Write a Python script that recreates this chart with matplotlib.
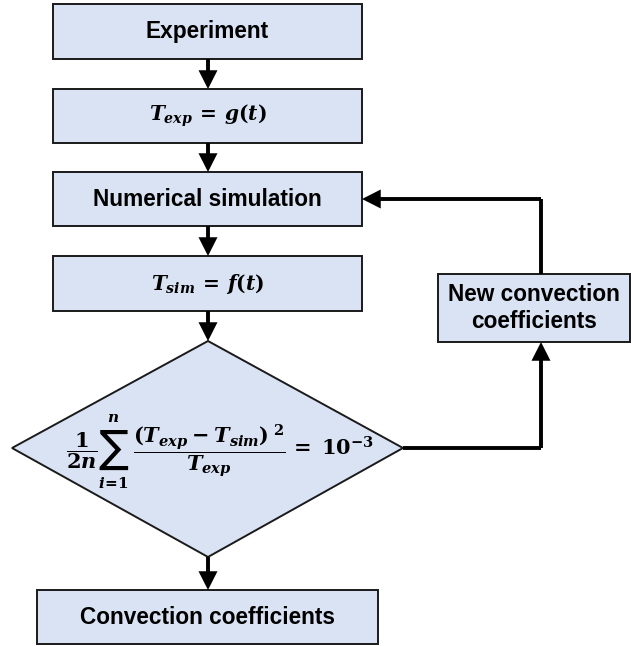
import matplotlib
matplotlib.use("Agg")
import matplotlib.pyplot as plt
from matplotlib.patches import Rectangle, Polygon, FancyArrowPatch

# ── Flowchart content ─────────────────────────────────────────────────────────
step_labels = [
    "Experiment",
    r"$T_{exp}\,=\,g(t)$",
    "Numerical simulation",
    r"$T_{sim}\,=\,f(t)$",
]
# decision criterion, split in pieces so the sum sign can be drawn large
crit_prefactor = r"$\dfrac{\mathbf{1}}{\mathbf{2}n}$"
crit_sum = "\u2211"
crit_upper = r"$n$"
crit_lower = r"$i\!=\!\mathbf{1}$"
crit_term = r"$\dfrac{(T_{exp}-T_{sim})^{\;\mathbf{2}}}{T_{exp}}$"
crit_rhs = r"$=\;\mathbf{10}^{-\mathbf{3}}$"
result_label = "Convection coefficients"
loop_label = "New convection\ncoefficients"

# layout in pixels (y downwards)
STEP_X0, STEP_X1 = 53, 362
STEP_Y = [(4, 59), (89, 143), (172, 226), (256, 311)]
DIAMOND = dict(left=12, right=403, top=341, bottom=557, cx=208, cy=448)
RESULT_BOX = (37, 378, 590, 644)
LOOP_BOX = (438, 630, 274, 342)
LOOP_X = 541

FILL = "#dae3f3"
EDGE = "#1a1a1a"

plt.rcParams["mathtext.fontset"] = "custom"
plt.rcParams["mathtext.it"] = "DejaVu Serif:style=italic:weight=bold"
plt.rcParams["mathtext.rm"] = "DejaVu Serif:weight=bold"
plt.rcParams["mathtext.bf"] = "DejaVu Serif:weight=bold"

fig = plt.figure(figsize=(6.31, 6.46), dpi=100)
ax = fig.add_axes([0, 0, 1, 1])
ax.set_xlim(0, 631)
ax.set_ylim(646, 0)
ax.axis("off")

TXT = dict(ha="center", va="center", family="Liberation Sans",
           fontweight="bold", fontsize=16.3, color="black")


def box(x0, x1, y0, y1, label, math=False):
    ax.add_patch(Rectangle((x0, y0), x1 - x0, y1 - y0, facecolor=FILL,
                           edgecolor=EDGE, linewidth=1.4))
    kw = dict(TXT)
    if math:
        kw["fontsize"] = 14.5
    ax.text((x0 + x1) / 2, (y0 + y1) / 2, label, **kw)


def arrow(points):
    # polyline with an arrow head at the last point
    xs = [p[0] for p in points]
    ys = [p[1] for p in points]
    if len(points) > 2:
        ax.plot(xs[:-1], ys[:-1], color="black", linewidth=2.8,
                solid_joinstyle="miter", solid_capstyle="butt")
    ax.add_patch(FancyArrowPatch(points[-2], points[-1],
                                 arrowstyle="-|>,head_length=0.75,head_width=0.38",
                                 mutation_scale=12, color="black",
                                 linewidth=2.8, shrinkA=0, shrinkB=0,
                                 joinstyle="miter", capstyle="butt"))


for i, (label, (y0, y1)) in enumerate(zip(step_labels, STEP_Y)):
    box(STEP_X0, STEP_X1, y0, y1, label, math=label.startswith("$"))

cx = DIAMOND["cx"]
for (a0, a1), (b0, b1) in zip(STEP_Y[:-1], STEP_Y[1:]):
    arrow([(cx, a1), (cx, b0)])

# decision diamond
d = DIAMOND
ax.add_patch(Polygon([(d["left"], d["cy"]), (d["cx"], d["top"]),
                      (d["right"], d["cy"]), (d["cx"], d["bottom"])],
                     closed=True, facecolor=FILL, edgecolor=EDGE, linewidth=1.4))
ax.text(82, 451, crit_prefactor, ha="center", va="center", fontsize=15)
ax.text(113, 449, crit_sum, ha="center", va="center", fontsize=32,
        family=["DejaVu Sans"])
ax.text(113, 418, crit_upper, ha="center", va="center", fontsize=11)
ax.text(113, 483, crit_lower, ha="center", va="center", fontsize=11)
ax.text(209, 451, crit_term, ha="center", va="center", fontsize=15)
ax.text(289, 448, crit_rhs, ha="left", va="center", fontsize=15)
arrow([(cx, STEP_Y[-1][1]), (cx, d["top"])])

# result
box(*RESULT_BOX, result_label)
arrow([(cx, d["bottom"]), (cx, RESULT_BOX[2])])

# feedback loop
box(*LOOP_BOX, loop_label)
arrow([(d["right"], d["cy"]), (LOOP_X, d["cy"]), (LOOP_X, LOOP_BOX[3])])
loop_row = (STEP_Y[2][0] + STEP_Y[2][1]) / 2
arrow([(LOOP_X, LOOP_BOX[2]), (LOOP_X, loop_row), (STEP_X1, loop_row)])

fig.savefig("out.png", dpi=100, facecolor="white")
